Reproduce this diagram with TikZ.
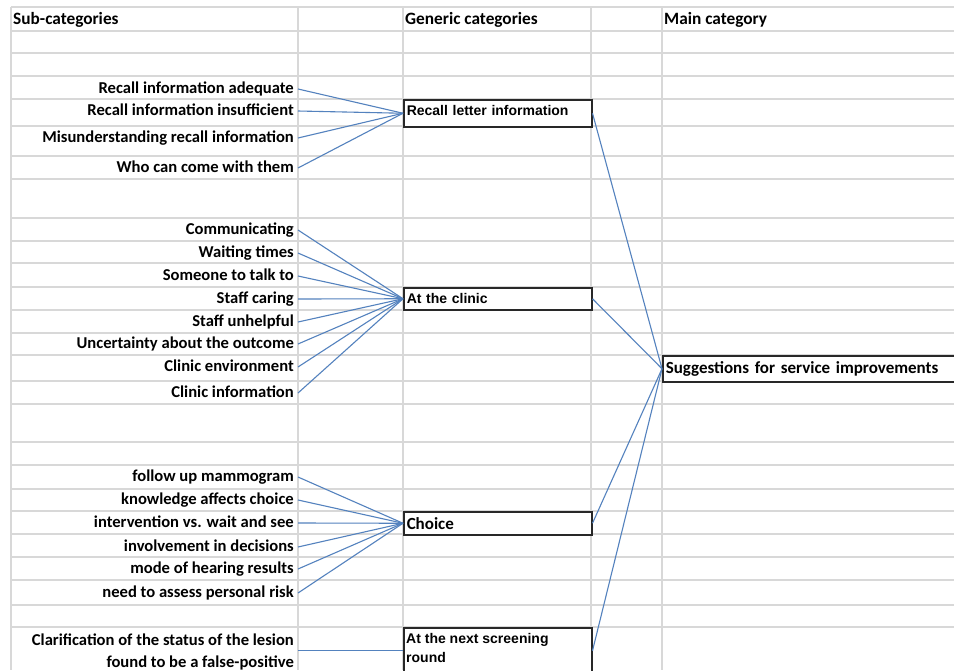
\documentclass[tikz,border=0pt]{standalone}
\usepackage{fontspec}
\setmainfont{Carlito}
\newfontfamily\arialb{Liberation Sans}
\definecolor{gridc}{RGB}{216,216,216}
\definecolor{linkc}{RGB}{84,130,190}
\definecolor{boxc}{RGB}{40,40,40}
\tikzset{
  gridline/.style={gridc, line width=1.3pt},
  subbase/.style={anchor=east, inner xsep=4pt, inner ysep=0pt, font=\fontsize{16.6}{18}\selectfont\bfseries},
  sub/.style={subbase, text height=12pt, text depth=3.5pt},
  hdr/.style={anchor=west, inner xsep=2pt, inner ysep=0pt, font=\fontsize{17.3}{18}\selectfont\bfseries},
  catbox/.style={draw=boxc, line width=1.5pt, fill=white, anchor=north west, minimum width=188pt, text width=182pt, inner xsep=3pt, inner ysep=0pt, align=left, font=\fontsize{14}{19}\selectfont\arialb\bfseries},
  mainbox/.style={draw=boxc, line width=1.5pt, fill=white, anchor=north west, minimum width=340pt, text width=334pt, inner xsep=3pt, inner ysep=0pt, align=left, minimum height=26pt, font=\fontsize{17}{18}\selectfont\bfseries},
  link/.style={linkc, line width=1.1pt}
}
\begin{document}
\begin{tikzpicture}[x=1pt,y=-1pt]
\useasboundingbox (0,0) rectangle (954,670);
\fill[white] (0,0) rectangle (954,670);
% grid
\foreach \yy in {7,31,53,76,99,126,156,179,218,241,263,287,310,333,355,381,404,442,465,489,511,534,557,580,605,627}
  \draw[gridline] (11,\yy) -- (954,\yy);
\foreach \xx in {11,298,403,591,662}
  \draw[gridline] (\xx,7) -- (\xx,670);
% headers
\node[hdr] (h1) at (11,20) {Sub-categories};
\node[hdr] (h2) at (403,20) {Generic categories};
\node[hdr] (h3) at (662,20) {Main category};
% sub-categories
\node[sub] (a1) at (298,89) {Recall information adequate};
\node[sub] (a2) at (298,111) {Recall information insufficient};
\node[sub] (a3) at (298,138) {Misunderstanding recall information};
\node[sub] (a4) at (298,168) {Who can come with them};
\node[sub] (b1) at (298,230) {Communicating};
\node[sub] (b2) at (298,253) {Waiting times};
\node[sub] (b3) at (298,276) {Someone to talk to\hspace{0.55em}};
\node[sub] (b4) at (298,299) {Staff caring};
\node[sub] (b5) at (298,322) {Staff unhelpful};
\node[sub] (b6) at (298,344) {Uncertainty about the outcome};
\node[sub] (b7) at (298,367) {Clinic environment};
\node[sub] (b8) at (298,393) {Clinic information};
\node[sub] (c1) at (298,477) {follow up mammogram};
\node[sub] (c2) at (298,500) {knowledge affects choice};
\node[sub] (c3) at (298,523) {intervention vs. wait and see};
\node[sub] (c4) at (298,547) {involvement in decisions};
\node[sub] (c5) at (298,569) {mode of hearing results};
\node[sub] (c6) at (298,593) {need to assess personal risk};
\node[subbase, align=right, font=\fontsize{16.6}{22}\selectfont\bfseries] (d1) at (298,652) {Clarification of the status of the lesion\\found to be a false-positive};
% boxes
\node[catbox, minimum height=27pt, text depth=6pt] (g1) at (403,99) {Recall letter information};
\node[catbox, minimum height=22pt] (g2) at (403,287) {At the clinic};
\node[catbox, minimum height=23pt, font=\fontsize{17}{18}\selectfont\bfseries] (g3) at (403,511) {Choice};
\node[catbox, minimum height=46pt,
  label={[anchor=north west, align=left, inner xsep=3pt, inner ysep=6.5pt, font=\fontsize{14}{19}\selectfont\arialb\bfseries]north west:At the next screening\\round}] (g4) at (403,627) {};
\node[mainbox] (m) at (662,355) {Suggestions for service improvements};
% connectors
\foreach \n in {a1,a2,a3,a4} \draw[link] (\n.east) -- (g1.west);
\foreach \n in {b1,b2,b3,b4,b5,b6,b7,b8} \draw[link] (\n.east) -- (g2.west);
\foreach \n in {c1,c2,c3,c4,c5,c6} \draw[link] (\n.east) -- (g3.west);
\draw[link] (d1.east |- g4.west) -- (g4.west);
\foreach \n in {g1,g2,g3,g4} \draw[link] (\n.east) -- (m.west);
\end{tikzpicture}
\end{document}
